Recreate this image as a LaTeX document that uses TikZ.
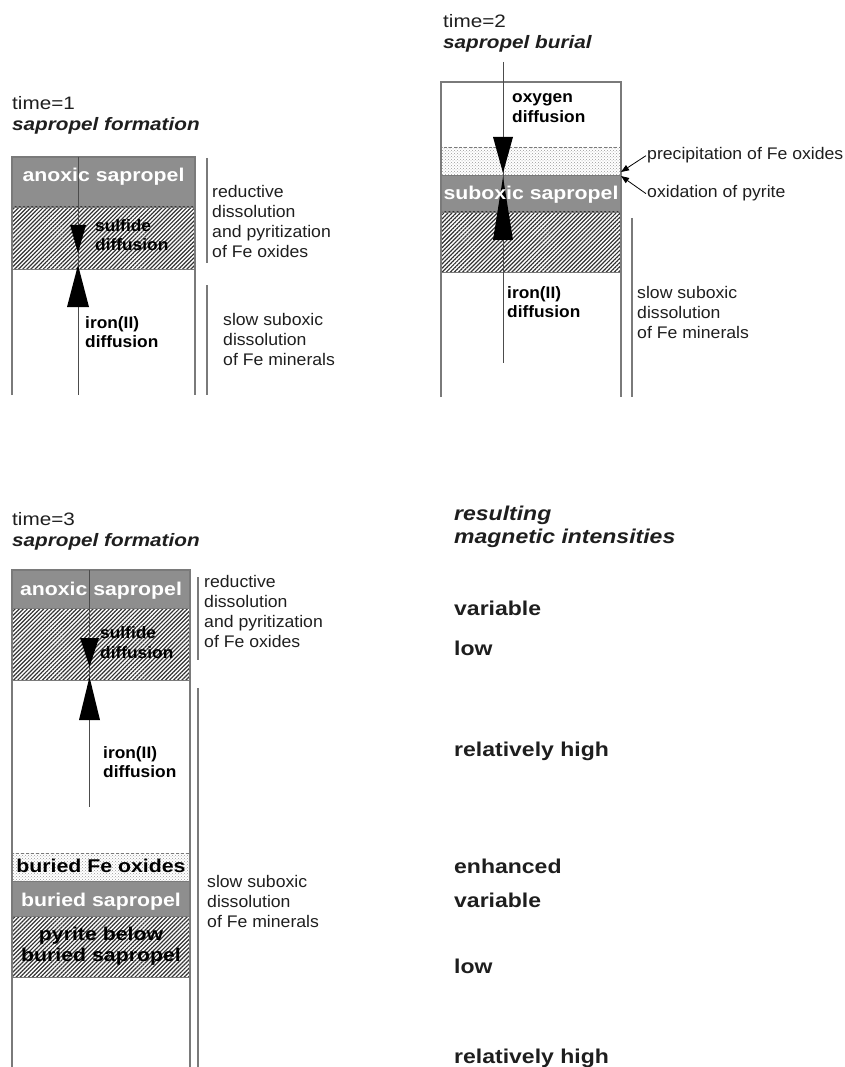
\documentclass[tikz,border=0pt]{standalone}
\usepackage{fontspec}
\setmainfont[FakeStretch=1.05]{Liberation Sans}
\newfontfamily\widefont[FakeStretch=1.15]{Liberation Sans}
\usetikzlibrary{patterns,patterns.meta,arrows.meta}
\definecolor{sapgray}{HTML}{8E8E8E}
\definecolor{rimgray}{HTML}{7A7A7A}
\definecolor{inkgray}{HTML}{1E1E1E}

\begin{document}
\begin{tikzpicture}[x=1pt,y=-1pt,
	sapband/.style={fill=sapgray,draw=rimgray,line width=0.8},
	pyrband/.style={pattern={Lines[angle=45,distance=2.9pt,line width=1.2pt]},pattern color=black!80,draw=rimgray,line width=0.8},
	oxband/.style={pattern=crosshatch dots,pattern color=black!40,draw=rimgray,line width=0.8,densely dashed},
	rim/.style={draw=rimgray,line width=1.3},
	axis/.style={draw=black!70,line width=0.9},
	bracket/.style={draw=rimgray,line width=1.2},
	callout/.style={draw=black,line width=0.8,-{Triangle[length=8pt,width=6pt]}},
	sidetext/.style={anchor=base west,align=left,inner sep=0pt,text=inkgray,font=\fontsize{16.8}{20}\selectfont},
	difftext/.style={anchor=base west,align=left,inner sep=0pt,text=black,font=\bfseries\fontsize{16.5}{19.5}\selectfont},
	headtext/.style={anchor=base west,align=left,inner sep=0pt,text=inkgray,font=\widefont\fontsize{18}{21}\selectfont},
	bandtext/.style={anchor=base,align=center,inner sep=0pt,font=\widefont\bfseries\fontsize{18.5}{21}\selectfont},
	magtext/.style={anchor=base west,inner sep=0pt,text=inkgray,font=\widefont\bfseries\fontsize{20}{23}\selectfont}]
	\useasboundingbox (0,0) rectangle (844,1067);
	% time=1 (text positions are last-line baselines)
	\path[sapband] (12,157) rectangle (195,207);
	\path[pyrband] (12,207) rectangle (195,269);
	\draw[rim] (12,395) -- (12,157) -- (195,157) -- (195,395);
	\draw[axis] (78,157) -- (78,395);
	\fill (70,225) -- (86,225) -- (78,253) -- cycle;
	\fill (78,265) -- (89,307) -- (67,307) -- cycle;
	\draw[bracket] (207,158) -- (207,263);
	\draw[bracket] (207,285) -- (207,395);
	\node[headtext] (head1) at (12,131) {time=1\\\textbf{\textit{sapropel formation}}};
	\node[bandtext,text=white] (anox1) at (103.5,182) {anoxic sapropel};
	\node[difftext] (sulf1) at (95,251) {sulfide\\diffusion};
	\node[difftext] (iron1) at (85,347.5) {iron(II)\\diffusion};
	\node[sidetext] (redu1) at (212,258) {reductive\\dissolution\\and pyritization\\of Fe oxides};
	\node[sidetext] (slow1) at (223,365) {slow suboxic\\dissolution\\of Fe minerals};
	% time=2
	\path[oxband] (441,147) rectangle (621,175);
	\path[sapband] (441,175) rectangle (621,212);
	\path[pyrband] (441,212) rectangle (621,272);
	\draw[rim] (441,397) -- (441,82) -- (621,82) -- (621,397);
	\draw[axis] (503,62) -- (503,363);
	\fill (493,137) -- (513,137) -- (503,173) -- cycle;
	\fill (503,177) -- (513,240) -- (493,240) -- cycle;
	\draw[bracket] (632,218) -- (632,397);
	\node[headtext] (head2) at (443,49) {time=2\\\textbf{\textit{sapropel burial}}};
	\node[difftext] (oxy2) at (512,122.5) {oxygen\\diffusion};
	\node[bandtext,text=white] (subox2) at (531,200) {suboxic sapropel};
	\node[difftext] (iron2) at (507,317.5) {iron(II)\\diffusion};
	\node[sidetext] (slow2) at (637,338) {slow suboxic\\dissolution\\of Fe minerals};
	\node[sidetext] (prec2) at (647,160) {precipitation of Fe oxides};
	\node[sidetext] (oxid2) at (647,198) {oxidation of pyrite};
	\coordinate (prectip) at (621,172);
	\coordinate (oxidtip) at (621,176);
	\draw[callout] ([xshift=-1pt]prec2.west) -- (prectip);
	\draw[callout] ([xshift=-1pt]oxid2.west) -- (oxidtip);
	% time=3
	\path[sapband] (12,570) rectangle (190,608);
	\path[pyrband] (12,608) rectangle (190,680);
	\path[oxband] (12,853) rectangle (190,881);
	\path[sapband] (12,881) rectangle (190,916);
	\path[pyrband] (12,916) rectangle (190,977);
	\draw[rim] (12,1067) -- (12,570) -- (190,570) -- (190,1067);
	\draw[axis] (89.5,570) -- (89.5,807);
	\fill (80,638) -- (99,638) -- (89.5,667) -- cycle;
	\fill (89.5,677) -- (100,720) -- (79,720) -- cycle;
	\draw[bracket] (198,577) -- (198,660);
	\draw[bracket] (198,688) -- (198,1067);
	\node[headtext] (head3) at (12,546) {time=3\\\textbf{\textit{sapropel formation}}};
	\node[bandtext,text=white] (anox3) at (101,595) {anoxic sapropel};
	\node[difftext] (sulf3) at (100,658) {sulfide\\diffusion};
	\node[difftext] (iron3) at (103,777.5) {iron(II)\\diffusion};
	\node[sidetext] (redu3) at (204,647) {reductive\\dissolution\\and pyritization\\of Fe oxides};
	\node[bandtext,text=black] (buriox3) at (101,872) {buried Fe oxides};
	\node[bandtext,text=white] (burisap3) at (101,906) {buried sapropel};
	\node[bandtext,text=black] (pyr3) at (101,961) {pyrite below\\buried sapropel};
	\node[sidetext] (slow3) at (207,927) {slow suboxic\\dissolution\\of Fe minerals};
	% resulting magnetic intensities
	\node[headtext,font=\widefont\bfseries\itshape\fontsize{20}{23}\selectfont] (maghead) at (454,543) {resulting\\magnetic intensities};
	\node[magtext] (mag1) at (454,615) {variable};
	\node[magtext] (mag2) at (454,655) {low};
	\node[magtext] (mag3) at (454,756) {relatively high};
	\node[magtext] (mag4) at (454,873) {enhanced};
	\node[magtext] (mag5) at (454,907) {variable};
	\node[magtext] (mag6) at (454,973) {low};
	\node[magtext] (mag7) at (454,1063) {relatively high};
\end{tikzpicture}
\end{document}
